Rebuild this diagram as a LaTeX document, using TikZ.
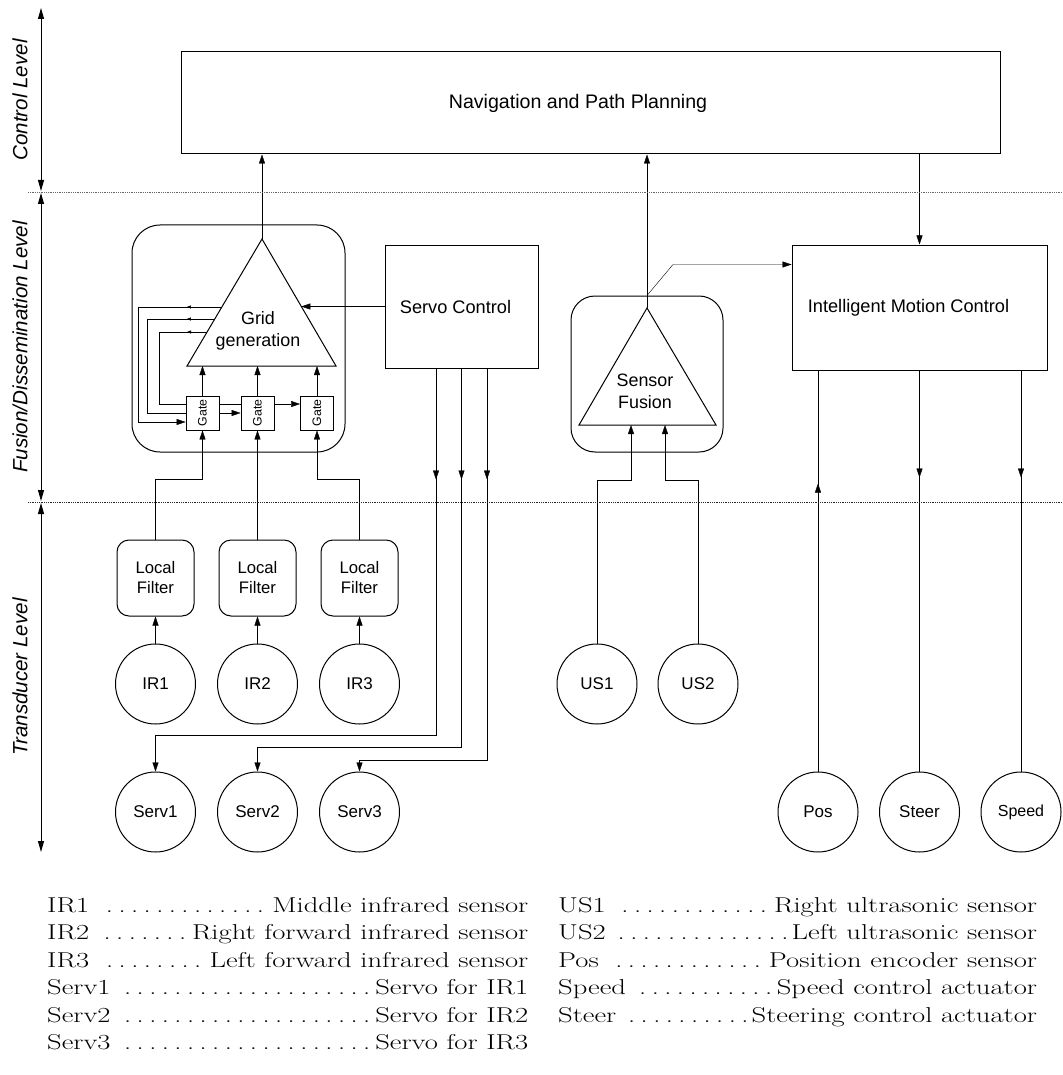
\documentclass[tikz,border=0pt]{standalone}
\usepackage{fontspec}
\newfontfamily\diagfont{Liberation Sans}
\usetikzlibrary{arrows.meta,calc,decorations.markings}
\pgfdeclarelayer{background}
\pgfsetlayers{background,main}
\begin{document}
\begin{tikzpicture}[x=1pt,y=-1pt,line width=1pt,
  arr/.style={-{Triangle[length=9pt,width=6pt]}},
  midtip/.style={postaction={decorate,decoration={markings,
      mark=at position #1 with {\arrow{Triangle[length=9pt,width=6pt]}}}}},
  smallmid/.style={postaction={decorate,decoration={markings,
      mark=at position #1 with {\arrow{Triangle[length=4pt,width=3pt]}}}}},
  box/.style={draw,inner sep=0pt},
  rbox/.style={draw,inner sep=0pt,rounded corners=12pt,minimum width=77pt,minimum height=76pt,
      align=center,font=\diagfont\fontsize{16.7}{20}\selectfont},
  sensor/.style={draw,circle,inner sep=0pt,minimum size=80pt,font=\diagfont\fontsize{17}{20}\selectfont},
  gate/.style={draw,fill=white,inner sep=0pt,minimum width=33pt,minimum height=34pt,
      line width=0.9pt,font=\diagfont\fontsize{12.3}{14}\selectfont},
  lbl/.style={inner sep=0pt,font=\diagfont\fontsize{18.2}{22}\selectfont},
  tri/.style={inner sep=0pt,align=center,font=\diagfont\fontsize{17.9}{22}\selectfont},
  levelarrow/.style={line width=1pt,{Triangle[length=11pt,width=6pt]}-{Triangle[length=11pt,width=6pt]}},
  sepline/.style={line width=0.8pt,densely dotted},
  levellabel/.style={rotate=90,inner sep=0pt,font=\diagfont\itshape\fontsize{20.6}{24}\selectfont},
  legend/.style={anchor=base west,inner sep=0pt}
]
\useasboundingbox (0,0) rectangle (1062,1075);

% ---- levels ----
\coordinate (ctrlTop) at (41,8);   \coordinate (ctrlBot) at (41,191);
\coordinate (fusTop)  at (41,193); \coordinate (fusBot)  at (41,501);
\coordinate (trTop)   at (41,503); \coordinate (trBot)   at (41,852);
\coordinate (sepAa) at (28,192);   \coordinate (sepAb) at (1062,192);
\coordinate (sepBa) at (28,502);   \coordinate (sepBb) at (1062,502);
\draw[sepline,black!60] (sepAa) -- (sepAb);
\draw[sepline,black!85] (sepBa) -- (sepBb);
\draw[levelarrow] (ctrlTop) -- (ctrlBot);
\draw[levelarrow] (fusTop) -- (fusBot);
\draw[levelarrow] (trTop) -- (trBot);
\node[levellabel] (lvCtrl) at (20,100) {Control Level};
\node[levellabel] (lvFus) at (20,347) {Fusion/Dissemination Level};
\node[levellabel] (lvTr) at (20,677) {Transducer Level};

% ---- control level ----
\node[box,minimum width=819pt,minimum height=102pt] (nav) at (590.5,103) {};
\node[lbl,font=\diagfont\fontsize{19.6}{22}\selectfont] (navtxt) at (578,103) {Navigation and Path Planning};

% ---- grid generation block ----
\node[draw,rounded corners=28pt,minimum width=213pt,minimum height=227pt] (gridbox) at (238.5,338.5) {};
\coordinate (gtA) at (262,239); \coordinate (gtL) at (187,366); \coordinate (gtR) at (336,366);
\draw (gtA) -- (gtL) -- (gtR) -- cycle;
\node[tri] (gridtxt) at (258,331) {Grid\\generation};
\node[gate] (g1) at (202.5,413) {\rotatebox{90}{Gate}};
\node[gate] (g2) at (257.5,413) {\rotatebox{90}{Gate}};
\node[gate] (g3) at (317,413) {\rotatebox{90}{Gate}};
\coordinate (fb1s) at (221.8,307);
\coordinate (fb2s) at (214.8,319);
\coordinate (fb3s) at (207.1,332);
\coordinate (gin) at (301.3,306.5);

% ---- servo control ----
\node[box,minimum width=153pt,minimum height=123pt] (servo) at (461.5,306.5) {};
\node[lbl] (servotxt) at (455.5,307) {Servo Control};

% ---- sensor fusion block ----
\node[draw,rounded corners=24pt,minimum width=152pt,minimum height=156pt] (sfbox) at (647,374) {};
\coordinate (sfA) at (647,308); \coordinate (sfL) at (579,425); \coordinate (sfR) at (716,425);
\draw (sfA) -- (sfL) -- (sfR) -- cycle;
\node[tri] (sftxt) at (645,391) {Sensor\\Fusion};
\coordinate (sfin1) at (631,425); \coordinate (sfin2) at (665,425);
\coordinate (sfk) at (673,264.5);

% ---- intelligent motion control ----
\node[box,minimum width=255pt,minimum height=125pt] (imc) at (919.5,307.5) {};
\node[lbl] (imctxt) at (908.5,308) {Intelligent Motion Control};

% ---- transducer level ----
\node[rbox] (lf1) at (155.5,578) {Local\\Filter};
\node[rbox] (lf2) at (257.5,578) {Local\\Filter};
\node[rbox] (lf3) at (359.5,578) {Local\\Filter};
\node[sensor] (ir1) at (155.5,684) {IR1};
\node[sensor] (ir2) at (257.5,684) {IR2};
\node[sensor] (ir3) at (359.5,684) {IR3};
\node[sensor] (sv1) at (155.5,812) {Serv1};
\node[sensor] (sv2) at (257.5,812) {Serv2};
\node[sensor] (sv3) at (359.5,812) {Serv3};
\node[sensor] (us1) at (597,684) {US1};
\node[sensor] (us2) at (698,684) {US2};
\node[sensor] (pos) at (818,812) {Pos};
\node[sensor] (steer) at (919.5,812) {Steer};
\node[sensor,font=\diagfont\fontsize{16}{20}\selectfont] (speed) at (1021,812) {Speed};

% ---- connectors ----
\begin{pgfonlayer}{background}
  % upward to planning
  \draw[arr] (gtA) -- (gtA |- nav.south);
  \draw[arr] (sfA) -- (sfA |- nav.south);
  \draw[arr] (sfA |- sfbox.north) -- (sfk) -- (sfk -| imc.west);
  \draw[arr] (nav.south -| imc.north) -- (imc.north);
  % grid generation internals
  \draw[arr] (g1.north) -- (g1.north |- gtL);
  \draw[arr] (g2.north) -- (g2.north |- gtL);
  \draw[arr] (g3.north) -- (g3.north |- gtL);
  \draw[arr,smallmid=35pt] (fb1s) -- (138,307) |- ($(g1.west)+(0,9)$);
  \draw[arr,smallmid=28pt] (fb2s) -- (147,319) |- (g2.west);
  \draw[arr,smallmid=20pt] (fb3s) -- (159,332) |- ($(g3.west)+(0,-9)$);
  \draw[arr] (servo.west) -- (gin);
  % local filters
  \draw[arr] (lf1.north) -- ++(0,-60) -| (g1.south);
  \draw[arr] (lf2.north) -- (g2.south);
  \draw[arr] (lf3.north) -- ++(0,-60) -| (g3.south);
  \draw[arr] (ir1) -- (lf1);
  \draw[arr] (ir2) -- (lf2);
  \draw[arr] (ir3) -- (lf3);
  % servo outputs
  \draw[arr,midtip=111pt] ($(servo.south)+(-25.5,0)$) -- ++(0,367) -| (sv1.north);
  \draw[arr,midtip=111pt] (servo.south) -- ++(0,379) -| (sv2.north);
  \draw[arr,midtip=111pt] ($(servo.south)+(25.5,0)$) -- ++(0,392) -| (sv3.north);
  % ultrasonic inputs
  \draw[arr] (us1.north) -- ++(0,-163) -| (sfin1);
  \draw[arr] (us2.north) -- ++(0,-163) -| (sfin2);
  % motion control
  \draw[midtip=288pt] (pos.north) -- (pos.north |- imc.south);
  \draw[midtip=107pt] (steer.north |- imc.south) -- (steer.north);
  \draw[midtip=107pt] (speed.north |- imc.south) -- (speed.north);
\end{pgfonlayer}

% ---- legend ----
\node[legend] (legL) at (47,912) {\scalebox{1.33}[1]{\vtop{\fontsize{21.5}{27.5}\selectfont
  \hbox to 361.7pt{IR1 \dotfill Middle infrared sensor}
  \hbox to 361.7pt{IR2 \dotfill Right forward infrared sensor}
  \hbox to 361.7pt{IR3 \dotfill Left forward infrared sensor}
  \hbox to 361.7pt{Serv1 \dotfill Servo for IR1}
  \hbox to 361.7pt{Serv2 \dotfill Servo for IR2}
  \hbox to 361.7pt{Serv3 \dotfill Servo for IR3}}}};
\node[legend] (legR) at (558,912) {\scalebox{1.33}[1]{\vtop{\fontsize{21.5}{27.5}\selectfont
  \hbox to 360pt{US1 \dotfill Right ultrasonic sensor}
  \hbox to 360pt{US2 \dotfill Left ultrasonic sensor}
  \hbox to 360pt{Pos \dotfill Position encoder sensor}
  \hbox to 360pt{Speed \dotfill Speed control actuator}
  \hbox to 360pt{Steer \dotfill Steering control actuator}}}};
\end{tikzpicture}
\end{document}
